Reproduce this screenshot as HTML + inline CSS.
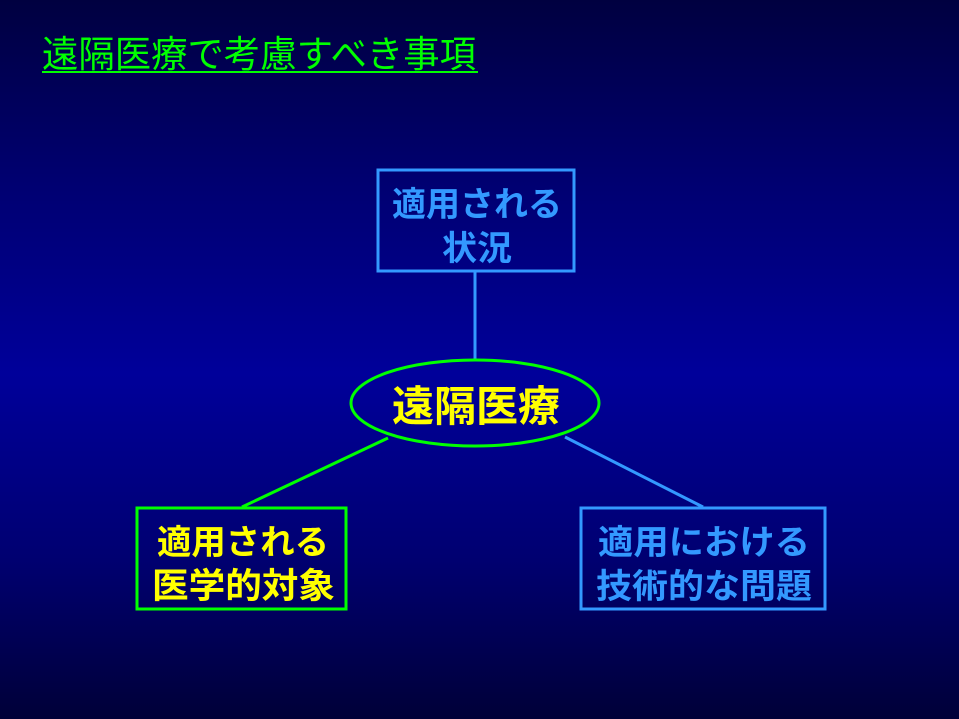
<!DOCTYPE html>
<html><head><meta charset="utf-8"><style>
html,body{margin:0;padding:0;width:959px;height:719px;overflow:hidden;}
body{background:linear-gradient(to bottom,#000040 0%,#000070 25%,#00009a 52%,#000070 78%,#000038 100%);}
svg{position:absolute;left:0;top:0;}
text{font-family:"Liberation Sans","Noto Sans CJK JP",sans-serif;}
</style></head><body>
<svg width="959" height="719" viewBox="0 0 959 719">
<text x="42" y="67" font-size="37" fill="#00ff00" textLength="434" lengthAdjust="spacingAndGlyphs">遠隔医療で考慮すべき事項</text>
<line x1="42" y1="72" x2="478" y2="72" stroke="#00ff00" stroke-width="2"/>
<line x1="475" y1="272" x2="475" y2="360" stroke="#3399ff" stroke-width="3"/>
<line x1="388" y1="438" x2="242" y2="507" stroke="#00ff00" stroke-width="3"/>
<line x1="565" y1="437" x2="703" y2="507" stroke="#3399ff" stroke-width="3"/>
<rect x="378" y="170" width="196" height="101" fill="none" stroke="#3399ff" stroke-width="3"/>
<text x="392" y="216" font-size="34" font-weight="bold" fill="#3399ff" textLength="170" lengthAdjust="spacingAndGlyphs">適用される</text>
<text x="442" y="260" font-size="34" font-weight="bold" fill="#3399ff" textLength="70" lengthAdjust="spacingAndGlyphs">状況</text>
<ellipse cx="475" cy="403" rx="124" ry="43" fill="none" stroke="#00ff00" stroke-width="3"/>
<text x="392" y="421" font-size="42" font-weight="bold" fill="#ffff00" textLength="168" lengthAdjust="spacingAndGlyphs">遠隔医療</text>
<rect x="137" y="508" width="209" height="101" fill="none" stroke="#00ff00" stroke-width="3"/>
<text x="157" y="554" font-size="34" font-weight="bold" fill="#ffff00" textLength="172" lengthAdjust="spacingAndGlyphs">適用される</text>
<text x="152" y="598" font-size="35" font-weight="bold" fill="#ffff00" textLength="183" lengthAdjust="spacingAndGlyphs">医学的対象</text>
<rect x="581" y="508" width="244" height="101" fill="none" stroke="#3399ff" stroke-width="3"/>
<text x="598" y="554" font-size="34" font-weight="bold" fill="#3399ff" textLength="212" lengthAdjust="spacingAndGlyphs">適用における</text>
<text x="596" y="598" font-size="34" font-weight="bold" fill="#3399ff" textLength="216" lengthAdjust="spacingAndGlyphs">技術的な問題</text>
</svg>
</body></html>
